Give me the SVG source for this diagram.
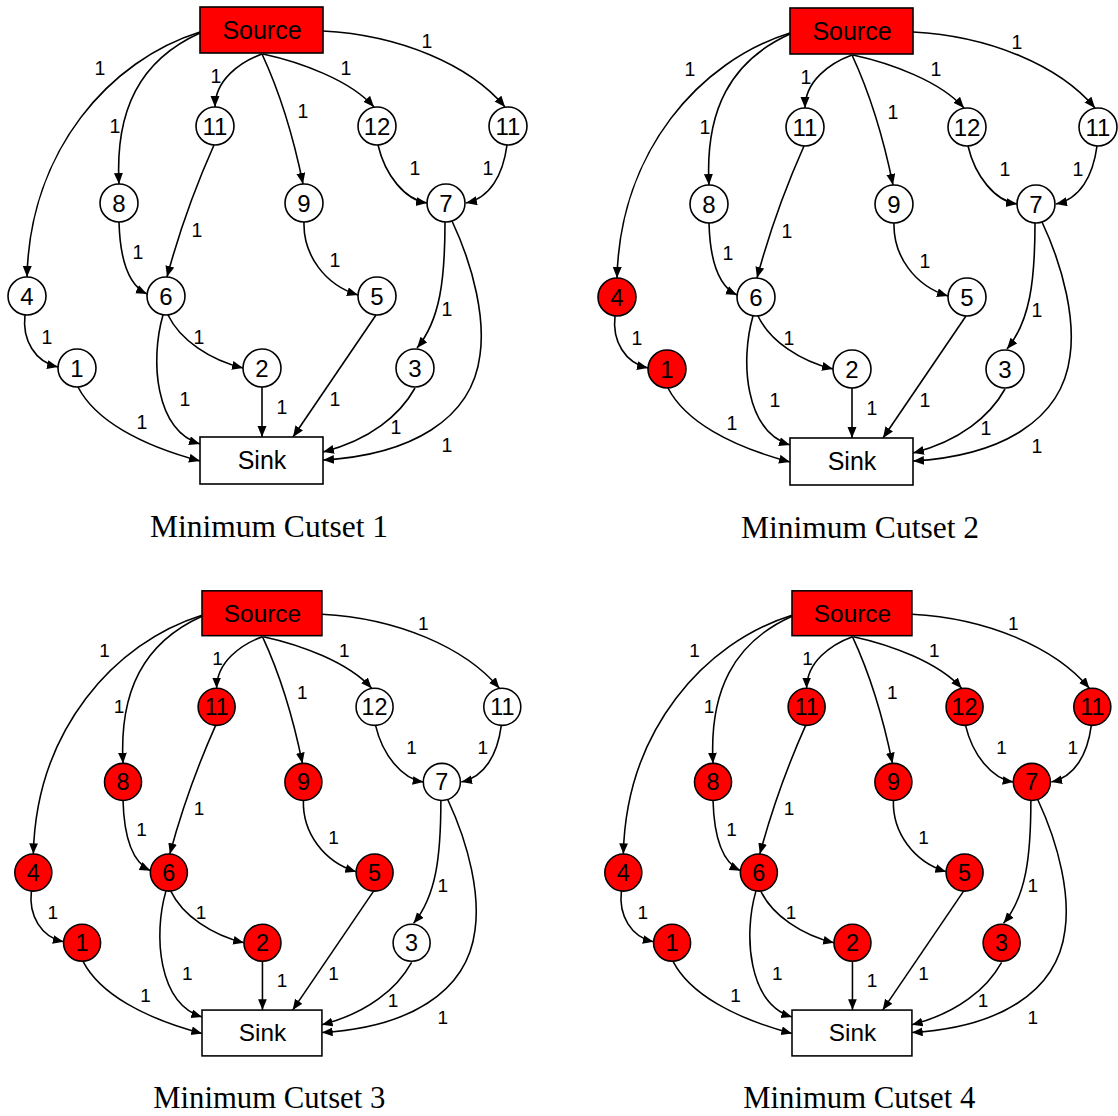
<svg xmlns="http://www.w3.org/2000/svg" width="1118" height="1116" viewBox="0 0 1118 1116">
<defs>
<marker id="ah" markerUnits="userSpaceOnUse" markerWidth="12" markerHeight="10" refX="11" refY="4.5" orient="auto">
<path d="M0,0 L11,4.5 L0,9 z" fill="#000"/>
</marker>
<style>
.e{fill:none;stroke:#000;stroke-width:1.6;marker-end:url(#ah)}
.c{fill:#fff;stroke:#000;stroke-width:1.6}
.red .c,.red rect{fill:#f00}
.bx{fill:#fff;stroke:#000;stroke-width:1.6}
.nt{font-family:"Liberation Sans",Arial,sans-serif;font-size:24px;text-anchor:middle;dominant-baseline:central;fill:#000}
.bt{font-family:"Liberation Sans",Arial,sans-serif;font-size:25px;text-anchor:middle;dominant-baseline:central;fill:#000}
.lb{font-family:"Liberation Sans",Arial,sans-serif;font-size:19.5px;text-anchor:middle;dominant-baseline:central;fill:#000}
.cap{font-family:"Liberation Serif","Times New Roman",serif;font-size:31.5px;text-anchor:middle;fill:#000}
</style>
</defs>
<rect width="1118" height="1116" fill="#fff"/>

<!-- PANEL 1 -->
<g id="panel1">
<g id="p1-connectors">
<path class="e" d="M200,32 C110,60 30,150 27,277"/>
<path class="e" d="M200,33 C140,60 115,110 119,184"/>
<path class="e" d="M262,54 C240,62 215,80 215,107"/>
<path class="e" d="M262,54 Q288,110 303,184"/>
<path class="e" d="M263,54 C300,62 350,80 374,107"/>
<path class="e" d="M323,31 C400,35 470,65 505,107"/>
<path class="e" d="M378,145 C385,175 405,200 427,203"/>
<path class="e" d="M507,145 C503,175 490,198 466,203"/>
<path class="e" d="M214,145 Q185,210 167,277"/>
<path class="e" d="M119,222 C120,260 128,285 147,294"/>
<path class="e" d="M25,315 C22,340 35,362 58,367"/>
<path class="e" d="M168,315 C180,340 210,360 243,368"/>
<path class="e" d="M163,315 C150,360 155,430 200,444"/>
<path class="e" d="M78,387 C95,420 140,445 200,461"/>
<path class="e" d="M262,387 L262,437"/>
<path class="e" d="M304,222 C303,255 325,285 358,295"/>
<path class="e" d="M376,315 L293,437"/>
<path class="e" d="M445,222 C445,280 440,320 417,348"/>
<path class="e" d="M452,221 C475,270 485,320 480,355 C472,420 410,455 323,460"/>
<path class="e" d="M415,388 C400,415 370,440 323,452"/>
<text class="lb" x="100" y="68">1</text><text class="lb" x="115" y="126">1</text><text class="lb" x="216" y="76">1</text><text class="lb" x="303" y="111">1</text><text class="lb" x="346" y="68">1</text><text class="lb" x="427" y="41">1</text><text class="lb" x="415" y="168">1</text><text class="lb" x="488" y="168">1</text><text class="lb" x="197" y="230">1</text><text class="lb" x="138" y="252">1</text><text class="lb" x="47" y="337">1</text><text class="lb" x="199" y="337">1</text><text class="lb" x="185" y="399">1</text><text class="lb" x="142" y="422">1</text><text class="lb" x="282" y="407">1</text><text class="lb" x="335" y="260">1</text><text class="lb" x="335" y="399">1</text><text class="lb" x="447" y="309">1</text><text class="lb" x="447" y="445">1</text><text class="lb" x="396" y="427">1</text>
</g>
<g id="p1-source" class="red"><rect class="bx" x="200" y="7" width="123" height="46"/><text class="bt" x="262" y="30">Source</text></g>
<g id="p1-sink"><rect class="bx" x="200" y="437" width="123" height="47"/><text class="bt" x="262" y="460">Sink</text></g>
<g id="p1-n11a"><circle class="c" cx="215" cy="126" r="19"/><text class="nt" x="215" y="126">11</text></g>
<g id="p1-n12"><circle class="c" cx="377" cy="126" r="19"/><text class="nt" x="377" y="126">12</text></g>
<g id="p1-n11b"><circle class="c" cx="508" cy="126" r="19"/><text class="nt" x="508" y="126">11</text></g>
<g id="p1-n8"><circle class="c" cx="119" cy="203" r="19"/><text class="nt" x="119" y="203">8</text></g>
<g id="p1-n9"><circle class="c" cx="304" cy="203" r="19"/><text class="nt" x="304" y="203">9</text></g>
<g id="p1-n7"><circle class="c" cx="446" cy="203" r="19"/><text class="nt" x="446" y="203">7</text></g>
<g id="p1-n4"><circle class="c" cx="27" cy="296" r="19"/><text class="nt" x="27" y="296">4</text></g>
<g id="p1-n6"><circle class="c" cx="166" cy="296" r="19"/><text class="nt" x="166" y="296">6</text></g>
<g id="p1-n5"><circle class="c" cx="377" cy="296" r="19"/><text class="nt" x="377" y="296">5</text></g>
<g id="p1-n1"><circle class="c" cx="77" cy="368" r="19"/><text class="nt" x="77" y="368">1</text></g>
<g id="p1-n2"><circle class="c" cx="262" cy="368" r="19"/><text class="nt" x="262" y="368">2</text></g>
<g id="p1-n3"><circle class="c" cx="415" cy="368" r="19"/><text class="nt" x="415" y="368">3</text></g>
<text class="cap" x="269" y="537">Minimum Cutset 1</text>
</g>

<!-- PANEL 2 -->
<g id="panel2" transform="translate(590,1)">
<g id="p2-connectors">
<path class="e" d="M200,32 C110,60 30,150 27,277"/>
<path class="e" d="M200,33 C140,60 115,110 119,184"/>
<path class="e" d="M262,54 C240,62 215,80 215,107"/>
<path class="e" d="M262,54 Q288,110 303,184"/>
<path class="e" d="M263,54 C300,62 350,80 374,107"/>
<path class="e" d="M323,31 C400,35 470,65 505,107"/>
<path class="e" d="M378,145 C385,175 405,200 427,203"/>
<path class="e" d="M507,145 C503,175 490,198 466,203"/>
<path class="e" d="M214,145 Q185,210 167,277"/>
<path class="e" d="M119,222 C120,260 128,285 147,294"/>
<path class="e" d="M25,315 C22,340 35,362 58,367"/>
<path class="e" d="M168,315 C180,340 210,360 243,368"/>
<path class="e" d="M163,315 C150,360 155,430 200,444"/>
<path class="e" d="M78,387 C95,420 140,445 200,461"/>
<path class="e" d="M262,387 L262,437"/>
<path class="e" d="M304,222 C303,255 325,285 358,295"/>
<path class="e" d="M376,315 L293,437"/>
<path class="e" d="M445,222 C445,280 440,320 417,348"/>
<path class="e" d="M452,221 C475,270 485,320 480,355 C472,420 410,455 323,460"/>
<path class="e" d="M415,388 C400,415 370,440 323,452"/>
<text class="lb" x="100" y="68">1</text><text class="lb" x="115" y="126">1</text><text class="lb" x="216" y="76">1</text><text class="lb" x="303" y="111">1</text><text class="lb" x="346" y="68">1</text><text class="lb" x="427" y="41">1</text><text class="lb" x="415" y="168">1</text><text class="lb" x="488" y="168">1</text><text class="lb" x="197" y="230">1</text><text class="lb" x="138" y="252">1</text><text class="lb" x="47" y="337">1</text><text class="lb" x="199" y="337">1</text><text class="lb" x="185" y="399">1</text><text class="lb" x="142" y="422">1</text><text class="lb" x="282" y="407">1</text><text class="lb" x="335" y="260">1</text><text class="lb" x="335" y="399">1</text><text class="lb" x="447" y="309">1</text><text class="lb" x="447" y="445">1</text><text class="lb" x="396" y="427">1</text>
</g>
<g id="p2-source" class="red"><rect class="bx" x="200" y="7" width="123" height="46"/><text class="bt" x="262" y="30">Source</text></g>
<g id="p2-sink"><rect class="bx" x="200" y="437" width="123" height="47"/><text class="bt" x="262" y="460">Sink</text></g>
<g id="p2-n11a"><circle class="c" cx="215" cy="126" r="19"/><text class="nt" x="215" y="126">11</text></g>
<g id="p2-n12"><circle class="c" cx="377" cy="126" r="19"/><text class="nt" x="377" y="126">12</text></g>
<g id="p2-n11b"><circle class="c" cx="508" cy="126" r="19"/><text class="nt" x="508" y="126">11</text></g>
<g id="p2-n8"><circle class="c" cx="119" cy="203" r="19"/><text class="nt" x="119" y="203">8</text></g>
<g id="p2-n9"><circle class="c" cx="304" cy="203" r="19"/><text class="nt" x="304" y="203">9</text></g>
<g id="p2-n7"><circle class="c" cx="446" cy="203" r="19"/><text class="nt" x="446" y="203">7</text></g>
<g id="p2-n4" class="red"><circle class="c" cx="27" cy="296" r="19"/><text class="nt" x="27" y="296">4</text></g>
<g id="p2-n6"><circle class="c" cx="166" cy="296" r="19"/><text class="nt" x="166" y="296">6</text></g>
<g id="p2-n5"><circle class="c" cx="377" cy="296" r="19"/><text class="nt" x="377" y="296">5</text></g>
<g id="p2-n1" class="red"><circle class="c" cx="77" cy="368" r="19"/><text class="nt" x="77" y="368">1</text></g>
<g id="p2-n2"><circle class="c" cx="262" cy="368" r="19"/><text class="nt" x="262" y="368">2</text></g>
<g id="p2-n3"><circle class="c" cx="415" cy="368" r="19"/><text class="nt" x="415" y="368">3</text></g>
<text class="cap" x="270" y="537">Minimum Cutset 2</text>
</g>

<!-- PANEL 3 -->
<g id="panel3" transform="translate(7,584) scale(0.975)">
<g id="p3-connectors">
<path class="e" d="M200,32 C110,60 30,150 27,277"/>
<path class="e" d="M200,33 C140,60 115,110 119,184"/>
<path class="e" d="M262,54 C240,62 215,80 215,107"/>
<path class="e" d="M262,54 Q288,110 303,184"/>
<path class="e" d="M263,54 C300,62 350,80 374,107"/>
<path class="e" d="M323,31 C400,35 470,65 505,107"/>
<path class="e" d="M378,145 C385,175 405,200 427,203"/>
<path class="e" d="M507,145 C503,175 490,198 466,203"/>
<path class="e" d="M214,145 Q185,210 167,277"/>
<path class="e" d="M119,222 C120,260 128,285 147,294"/>
<path class="e" d="M25,315 C22,340 35,362 58,367"/>
<path class="e" d="M168,315 C180,340 210,360 243,368"/>
<path class="e" d="M163,315 C150,360 155,430 200,444"/>
<path class="e" d="M78,387 C95,420 140,445 200,461"/>
<path class="e" d="M262,387 L262,437"/>
<path class="e" d="M304,222 C303,255 325,285 358,295"/>
<path class="e" d="M376,315 L293,437"/>
<path class="e" d="M445,222 C445,280 440,320 417,348"/>
<path class="e" d="M452,221 C475,270 485,320 480,355 C472,420 410,455 323,460"/>
<path class="e" d="M415,388 C400,415 370,440 323,452"/>
<text class="lb" x="100" y="68">1</text><text class="lb" x="115" y="126">1</text><text class="lb" x="216" y="76">1</text><text class="lb" x="303" y="111">1</text><text class="lb" x="346" y="68">1</text><text class="lb" x="427" y="41">1</text><text class="lb" x="415" y="168">1</text><text class="lb" x="488" y="168">1</text><text class="lb" x="197" y="230">1</text><text class="lb" x="138" y="252">1</text><text class="lb" x="47" y="337">1</text><text class="lb" x="199" y="337">1</text><text class="lb" x="185" y="399">1</text><text class="lb" x="142" y="422">1</text><text class="lb" x="282" y="407">1</text><text class="lb" x="335" y="260">1</text><text class="lb" x="335" y="399">1</text><text class="lb" x="447" y="309">1</text><text class="lb" x="447" y="445">1</text><text class="lb" x="396" y="427">1</text>
</g>
<g id="p3-source" class="red"><rect class="bx" x="200" y="7" width="123" height="46"/><text class="bt" x="262" y="30">Source</text></g>
<g id="p3-sink"><rect class="bx" x="200" y="437" width="123" height="47"/><text class="bt" x="262" y="460">Sink</text></g>
<g id="p3-n11a" class="red"><circle class="c" cx="215" cy="126" r="19"/><text class="nt" x="215" y="126">11</text></g>
<g id="p3-n12"><circle class="c" cx="377" cy="126" r="19"/><text class="nt" x="377" y="126">12</text></g>
<g id="p3-n11b"><circle class="c" cx="508" cy="126" r="19"/><text class="nt" x="508" y="126">11</text></g>
<g id="p3-n8" class="red"><circle class="c" cx="119" cy="203" r="19"/><text class="nt" x="119" y="203">8</text></g>
<g id="p3-n9" class="red"><circle class="c" cx="304" cy="203" r="19"/><text class="nt" x="304" y="203">9</text></g>
<g id="p3-n7"><circle class="c" cx="446" cy="203" r="19"/><text class="nt" x="446" y="203">7</text></g>
<g id="p3-n4" class="red"><circle class="c" cx="27" cy="296" r="19"/><text class="nt" x="27" y="296">4</text></g>
<g id="p3-n6" class="red"><circle class="c" cx="166" cy="296" r="19"/><text class="nt" x="166" y="296">6</text></g>
<g id="p3-n5" class="red"><circle class="c" cx="377" cy="296" r="19"/><text class="nt" x="377" y="296">5</text></g>
<g id="p3-n1" class="red"><circle class="c" cx="77" cy="368" r="19"/><text class="nt" x="77" y="368">1</text></g>
<g id="p3-n2" class="red"><circle class="c" cx="262" cy="368" r="19"/><text class="nt" x="262" y="368">2</text></g>
<g id="p3-n3"><circle class="c" cx="415" cy="368" r="19"/><text class="nt" x="415" y="368">3</text></g>
<text class="cap" x="269" y="537">Minimum Cutset 3</text>
</g>

<!-- PANEL 4 -->
<g id="panel4" transform="translate(597,584) scale(0.975)">
<g id="p4-connectors">
<path class="e" d="M200,32 C110,60 30,150 27,277"/>
<path class="e" d="M200,33 C140,60 115,110 119,184"/>
<path class="e" d="M262,54 C240,62 215,80 215,107"/>
<path class="e" d="M262,54 Q288,110 303,184"/>
<path class="e" d="M263,54 C300,62 350,80 374,107"/>
<path class="e" d="M323,31 C400,35 470,65 505,107"/>
<path class="e" d="M378,145 C385,175 405,200 427,203"/>
<path class="e" d="M507,145 C503,175 490,198 466,203"/>
<path class="e" d="M214,145 Q185,210 167,277"/>
<path class="e" d="M119,222 C120,260 128,285 147,294"/>
<path class="e" d="M25,315 C22,340 35,362 58,367"/>
<path class="e" d="M168,315 C180,340 210,360 243,368"/>
<path class="e" d="M163,315 C150,360 155,430 200,444"/>
<path class="e" d="M78,387 C95,420 140,445 200,461"/>
<path class="e" d="M262,387 L262,437"/>
<path class="e" d="M304,222 C303,255 325,285 358,295"/>
<path class="e" d="M376,315 L293,437"/>
<path class="e" d="M445,222 C445,280 440,320 417,348"/>
<path class="e" d="M452,221 C475,270 485,320 480,355 C472,420 410,455 323,460"/>
<path class="e" d="M415,388 C400,415 370,440 323,452"/>
<text class="lb" x="100" y="68">1</text><text class="lb" x="115" y="126">1</text><text class="lb" x="216" y="76">1</text><text class="lb" x="303" y="111">1</text><text class="lb" x="346" y="68">1</text><text class="lb" x="427" y="41">1</text><text class="lb" x="415" y="168">1</text><text class="lb" x="488" y="168">1</text><text class="lb" x="197" y="230">1</text><text class="lb" x="138" y="252">1</text><text class="lb" x="47" y="337">1</text><text class="lb" x="199" y="337">1</text><text class="lb" x="185" y="399">1</text><text class="lb" x="142" y="422">1</text><text class="lb" x="282" y="407">1</text><text class="lb" x="335" y="260">1</text><text class="lb" x="335" y="399">1</text><text class="lb" x="447" y="309">1</text><text class="lb" x="447" y="445">1</text><text class="lb" x="396" y="427">1</text>
</g>
<g id="p4-source" class="red"><rect class="bx" x="200" y="7" width="123" height="46"/><text class="bt" x="262" y="30">Source</text></g>
<g id="p4-sink"><rect class="bx" x="200" y="437" width="123" height="47"/><text class="bt" x="262" y="460">Sink</text></g>
<g id="p4-n11a" class="red"><circle class="c" cx="215" cy="126" r="19"/><text class="nt" x="215" y="126">11</text></g>
<g id="p4-n12" class="red"><circle class="c" cx="377" cy="126" r="19"/><text class="nt" x="377" y="126">12</text></g>
<g id="p4-n11b" class="red"><circle class="c" cx="508" cy="126" r="19"/><text class="nt" x="508" y="126">11</text></g>
<g id="p4-n8" class="red"><circle class="c" cx="119" cy="203" r="19"/><text class="nt" x="119" y="203">8</text></g>
<g id="p4-n9" class="red"><circle class="c" cx="304" cy="203" r="19"/><text class="nt" x="304" y="203">9</text></g>
<g id="p4-n7" class="red"><circle class="c" cx="446" cy="203" r="19"/><text class="nt" x="446" y="203">7</text></g>
<g id="p4-n4" class="red"><circle class="c" cx="27" cy="296" r="19"/><text class="nt" x="27" y="296">4</text></g>
<g id="p4-n6" class="red"><circle class="c" cx="166" cy="296" r="19"/><text class="nt" x="166" y="296">6</text></g>
<g id="p4-n5" class="red"><circle class="c" cx="377" cy="296" r="19"/><text class="nt" x="377" y="296">5</text></g>
<g id="p4-n1" class="red"><circle class="c" cx="77" cy="368" r="19"/><text class="nt" x="77" y="368">1</text></g>
<g id="p4-n2" class="red"><circle class="c" cx="262" cy="368" r="19"/><text class="nt" x="262" y="368">2</text></g>
<g id="p4-n3" class="red"><circle class="c" cx="415" cy="368" r="19"/><text class="nt" x="415" y="368">3</text></g>
<text class="cap" x="269" y="537">Minimum Cutset 4</text>
</g>
</svg>
